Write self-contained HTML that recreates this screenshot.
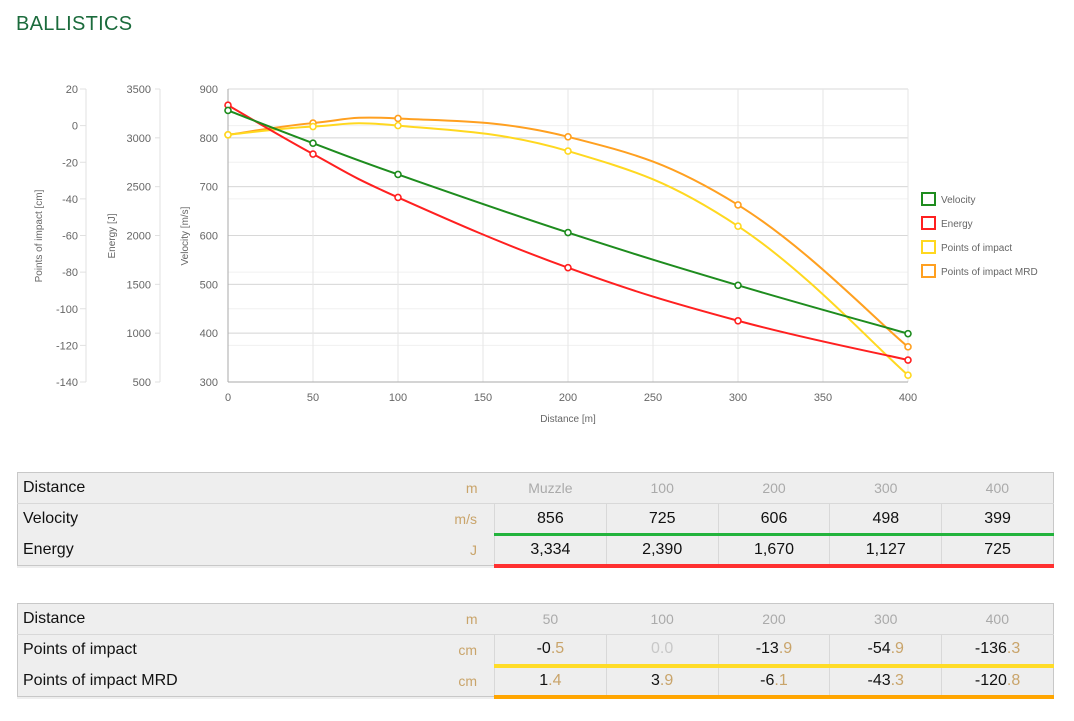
<!DOCTYPE html>
<html><head><meta charset="utf-8">
<style>
body{margin:0;background:#fff;font-family:"Liberation Sans",sans-serif;width:1074px;height:721px;overflow:hidden;position:relative}
#title{position:absolute;left:16px;top:13px;font-size:20px;color:#1b6b3c;letter-spacing:0.3px}
svg{position:absolute;left:0;top:0}
table{position:absolute;left:17px;border-collapse:collapse;width:1037px;background:#eee;border:1px solid #c8c8c8;font-size:16px;color:#111}
td{height:31px;padding:0;box-sizing:border-box}
td.lab{width:400px;padding-left:5px}
td.unit{width:78px;text-align:right;padding-right:17px;color:#c9a46a;font-size:14px}
td.v{width:112px;text-align:center;border-left:1px solid #d8d8d8}
tr.hd td{border-bottom:1px solid #d8d8d8}
tr.hd td.v{color:#aaa;font-size:14px;border-left:none}
.g{border-bottom:3px solid #22b33c}
.r{border-bottom:4px solid #ff3030}
.y{border-bottom:4px solid #ffdc28}
.o{border-bottom:4px solid #ffa500}
.t{color:#c9a46a}
</style></head><body>
<div id="title">BALLISTICS</div>
<svg id="chart" width="1074" height="440"></svg>

<table style="top:472px">
<tr class="hd"><td class="lab">Distance</td><td class="unit">m</td><td class="v">Muzzle</td><td class="v">100</td><td class="v">200</td><td class="v">300</td><td class="v">400</td></tr>
<tr><td class="lab">Velocity</td><td class="unit">m/s</td><td class="v g">856</td><td class="v g">725</td><td class="v g">606</td><td class="v g">498</td><td class="v g">399</td></tr>
<tr><td class="lab">Energy</td><td class="unit">J</td><td class="v r">3,334</td><td class="v r">2,390</td><td class="v r">1,670</td><td class="v r">1,127</td><td class="v r">725</td></tr>
</table>

<table style="top:603px">
<tr class="hd"><td class="lab">Distance</td><td class="unit">m</td><td class="v">50</td><td class="v">100</td><td class="v">200</td><td class="v">300</td><td class="v">400</td></tr>
<tr><td class="lab">Points of impact</td><td class="unit">cm</td><td class="v y">-0<span class="t">.5</span></td><td class="v y" style="color:#c8c8c8">0.0</td><td class="v y">-13<span class="t">.9</span></td><td class="v y">-54<span class="t">.9</span></td><td class="v y">-136<span class="t">.3</span></td></tr>
<tr><td class="lab">Points of impact MRD</td><td class="unit">cm</td><td class="v o">1<span class="t">.4</span></td><td class="v o">3<span class="t">.9</span></td><td class="v o">-6<span class="t">.1</span></td><td class="v o">-43<span class="t">.3</span></td><td class="v o">-120<span class="t">.8</span></td></tr>
</table>

<script>
const distances=[0,50,100,200,300,400];
const velocity=[856,789,725,606,498,399];
const energy=[3334,2834,2390,1670,1127,725];
const poi=[-5,-0.5,0,-13.9,-54.9,-136.3];
const poiMRD=[-5,1.4,3.9,-6.1,-43.3,-120.8];
const xTicks=[0,50,100,150,200,250,300,350,400];
const vTicks=[300,400,500,600,700,800,900];
const eTicks=[500,1000,1500,2000,2500,3000,3500];
const pTicks=[-140,-120,-100,-80,-60,-40,-20,0,20];

const svg=document.getElementById('chart');
const NS='http://www.w3.org/2000/svg';
const X0=228,X1=908,YT=89,YB=382;
const xs=d=>X0+(d-0)/400*(X1-X0);
const yv=v=>YB-(v-300)/600*(YB-YT);
const ye=v=>YB-(v-500)/3000*(YB-YT);
const yp=v=>YB-(v+140)/160*(YB-YT);
function mk(tag,attrs,parent){const e=document.createElementNS(NS,tag);for(const k in attrs)e.setAttribute(k,attrs[k]);(parent||svg).appendChild(e);return e;}
function txt(x,y,s,anchor,size,rot){const t=mk('text',{x:x,y:y,'text-anchor':anchor,'font-size':size||11,fill:'#666','font-family':'Liberation Sans, sans-serif'});if(rot)t.setAttribute('transform','rotate(-90 '+x+' '+y+')');t.textContent=s;return t;}

// faint grid for other axes
pTicks.forEach(v=>{const l=mk('line',{x1:X0,x2:X1,y1:yp(v),y2:yp(v),stroke:'#f0f0f0'});});
eTicks.forEach(v=>{const l=mk('line',{x1:X0,x2:X1,y1:ye(v),y2:ye(v),stroke:'#ececec'});});
vTicks.forEach(v=>{const l=mk('line',{x1:X0,x2:X1,y1:yv(v),y2:yv(v),stroke:'#d8d8d8'});
 const t=txt(218,yv(v)+4,String(v),'end',11);});
xTicks.forEach(d=>{const l=mk('line',{x1:xs(d),x2:xs(d),y1:YT,y2:YB,stroke:'#e6e6e6'});
 const t=txt(xs(d),401,String(d),'middle',11);});
let ax=mk('line',{x1:X0,x2:X0,y1:YT,y2:YB,stroke:'#aaa'});
ax=mk('line',{x1:X0,x2:X1,y1:YB,y2:YB,stroke:'#aaa'});

// energy axis
ax=mk('line',{x1:160,x2:160,y1:YT,y2:YB,stroke:'#e0e0e0'});
eTicks.forEach(v=>{mk('line',{x1:155,x2:160,y1:ye(v),y2:ye(v),stroke:'#e0e0e0'});const t=txt(151,ye(v)+4,String(v),'end',11);});
// poi axis
ax=mk('line',{x1:86,x2:86,y1:YT,y2:YB,stroke:'#e0e0e0'});
pTicks.forEach(v=>{mk('line',{x1:80,x2:86,y1:yp(v),y2:yp(v),stroke:'#e0e0e0'});const t=txt(78,yp(v)+4,String(v),'end',11);});

let t=txt(42,236,'Points of impact [cm]','middle',10,true);
t=txt(115,236,'Energy [J]','middle',10,true);
t=txt(188,236,'Velocity [m/s]','middle',10,true);
t=txt(568,422,'Distance [m]','middle',10);

function path(pts){let d='M'+pts[0][0]+','+pts[0][1];const k=0.2;
 for(let i=0;i<pts.length-1;i++){const p0=pts[Math.max(0,i-1)],p1=pts[i],p2=pts[i+1],p3=pts[Math.min(pts.length-1,i+2)];
  const c1=[p1[0]+(p2[0]-p0[0])*k,p1[1]+(p2[1]-p0[1])*k],c2=[p2[0]-(p3[0]-p1[0])*k,p2[1]-(p3[1]-p1[1])*k];
  d+=' C'+c1+' '+c2+' '+p2;}return d;}
function series(vals,yf,color,name){
 const pts=distances.map((d,i)=>[xs(d),yf(vals[i])]);
 const p=mk('path',{d:path(pts),fill:'none',stroke:color,'stroke-width':2});
 
 pts.forEach(q=>{const c=mk('circle',{cx:q[0],cy:q[1],r:3,fill:'#fff',stroke:color,'stroke-width':1.6});
  });
}
series(poiMRD,yp,'#ffa020','poi-mrd');
series(poi,yp,'#ffd820','poi');
series(energy,ye,'#ff2020','energy');
series(velocity,yv,'#1e8c1e','velocity');

const legNames=['Velocity','Energy','Points of impact','Points of impact MRD'];
const legColors=['#1e8c1e','#ff2020','#ffd820','#ffa020'];
legNames.forEach((n,i)=>{const y=193+i*24;
 const r=mk('rect',{x:922,y:y,width:13,height:12,fill:'#fff',stroke:legColors[i],'stroke-width':2});
 
 const tt=txt(941,y+10,n,'start',10);});
</script>
</body></html>
